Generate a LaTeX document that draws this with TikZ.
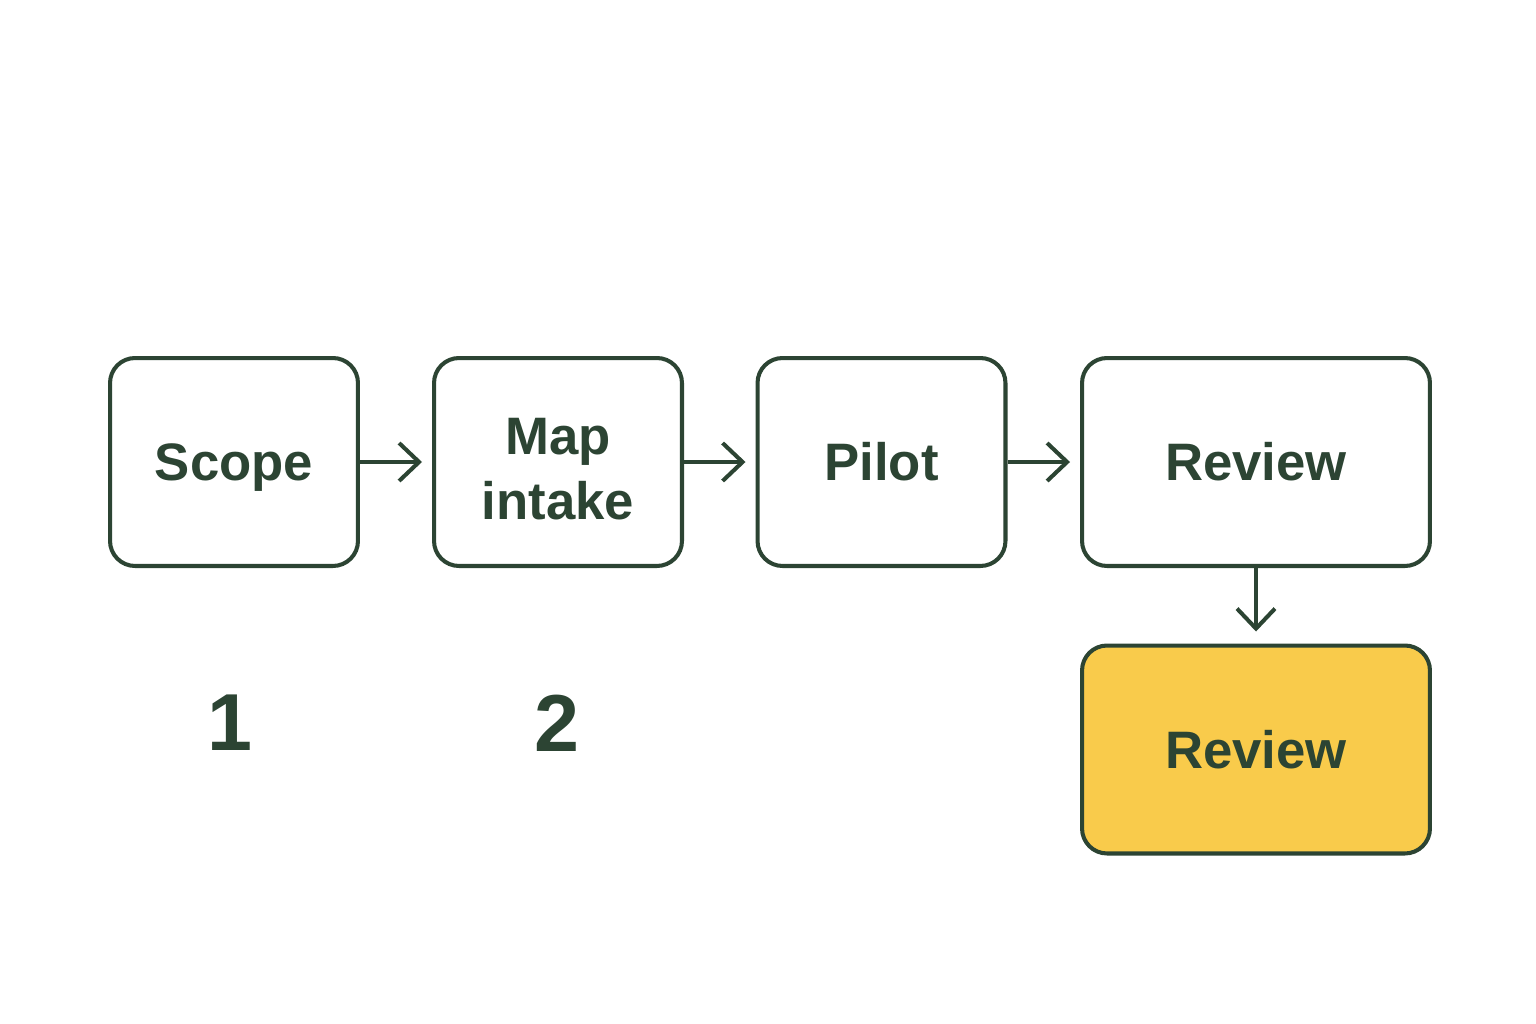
\documentclass[tikz,border=0pt]{standalone}
\usepackage{fontspec}
\setmainfont{Liberation Sans}
\usetikzlibrary{positioning, arrows.meta}

\definecolor{darkgreen}{HTML}{2C4433}
\definecolor{reviewyellow}{HTML}{F9CB4B}

\begin{document}
\begin{tikzpicture}[x=0.02cm, y=-0.02cm]
	\tikzset{
		stepbox/.style={draw=darkgreen, line width=2.3pt, rounded corners=0.5cm, fill=white,
			minimum width=4.96cm, minimum height=4.16cm, align=center, text=darkgreen,
			font=\fontsize{30}{37}\selectfont\bfseries},
		flow/.style={draw=darkgreen, line width=2.3pt, -{Straight Barb[length=0.4cm, width=0.76cm]}},
		steplabel/.style={text=darkgreen, font=\fontsize{46}{50}\selectfont\bfseries}
	}
	\useasboundingbox (0,0) rectangle (1536,1024);
	
	% top row
	\node[stepbox, text depth=0pt] (scope) at (234,462) {Scope};
	\node[stepbox] (map) at (558,462) {};
	\node[text=darkgreen, align=center, font=\fontsize{30}{37}\selectfont\bfseries] (maptext) at (558,469) {Map\\intake};
	\node[stepbox] (pilot) at (881.5,462) {Pilot};
	\node[stepbox, minimum width=6.96cm] (review) at (1256,462) {Review};
	
	% highlighted step
	\node[stepbox, minimum width=6.96cm, fill=reviewyellow] (reviewhl) at (1256,749.5) {Review};
	
	% numbers under the first steps
	\node[steplabel] (num1) at (230,723) {1};
	\node[steplabel] (num2) at (557,723) {2};
	
	% arrows
	\draw[flow, shorten >=0.2cm] (scope) -- (map);
	\draw[flow, shorten >=0.2cm] (map) -- (pilot);
	\draw[flow, shorten >=0.2cm] (pilot) -- (review);
	\draw[flow, shorten >=0.24cm] (review) -- (reviewhl);
\end{tikzpicture}
\end{document}
